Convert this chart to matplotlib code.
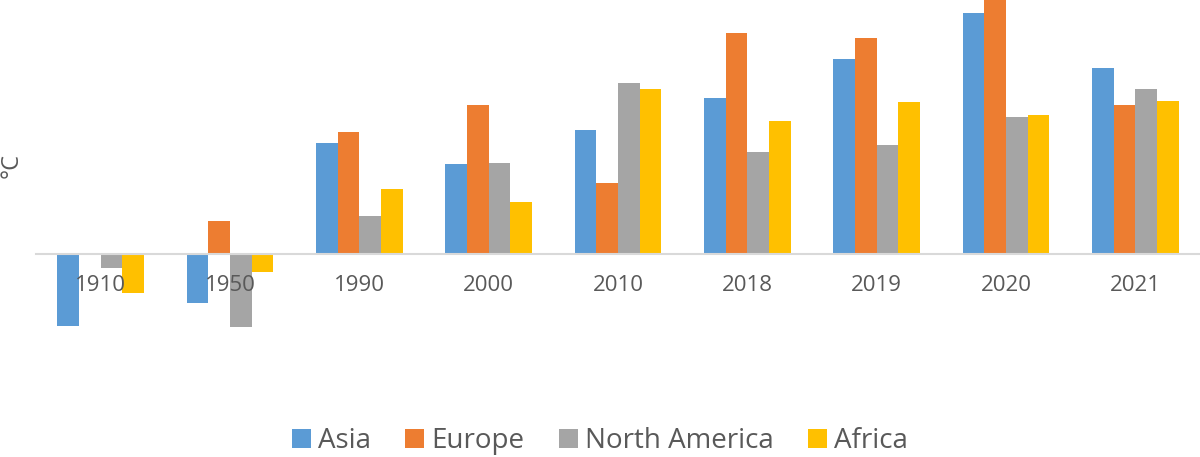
import numpy as np
import matplotlib.pyplot as plt

plt.rcParams['font.family'] = ['Open Sans', 'DejaVu Sans']

# temperature anomaly values (°C)
years = ['1910', '1950', '1990', '2000', '2010', '2018', '2019', '2020', '2021']
asia = [-0.72, -0.49, 1.11, 0.90, 1.24, 1.56, 1.95, 2.41, 1.86]
europe = [0.0, 0.33, 1.22, 1.49, 0.71, 2.21, 2.16, 2.62, 1.49]
north_america = [-0.14, -0.73, 0.38, 0.91, 1.71, 1.02, 1.09, 1.37, 1.65]
africa = [-0.39, -0.18, 0.65, 0.52, 1.65, 1.33, 1.52, 1.39, 1.53]

series = [('Asia', asia, '#5b9bd5'),
          ('Europe', europe, '#ed7d31'),
          ('North America', north_america, '#a5a5a5'),
          ('Africa', africa, '#ffc000')]

fig = plt.figure(figsize=(12, 4.57), dpi=100)
ax = fig.add_axes([0.03, 0.225, 0.97, 0.775])

x = np.arange(len(years))
w = 0.167
for i, (name, vals, col) in enumerate(series):
    ax.bar(x + (i - 1.5) * w, vals, width=w, color=col, label=name, zorder=1)

ax.set_xlim(-0.5, len(years) - 0.5)
ax.set_ylim(-1.0, 2.54)

# category axis drawn at zero, like the original; labels sit over the bars
for s in ['top', 'right', 'left']:
    ax.spines[s].set_visible(False)
ax.spines['bottom'].set_position(('data', 0))
ax.spines['bottom'].set_color('#d9d9d9')
ax.spines['bottom'].set_linewidth(1.5)
ax.spines['bottom'].set_zorder(3)
ax.xaxis.set_zorder(4)
ax.set_yticks([])
ax.set_xticks(x)
ax.set_xticklabels(years, fontsize=16, color='#595959')
ax.tick_params(axis='x', length=0, pad=15)

fig.text(0.0095, 1 - 165 / 457, '°C', rotation=90, fontsize=17, color='#595959',
         ha='center', va='center')

fig.legend(loc='center', bbox_to_anchor=(0.5, 1 - 441 / 457), ncol=4, frameon=False,
           fontsize=20, handlelength=0.68, handleheight=0.68, handletextpad=0.25,
           columnspacing=1.25, labelcolor='#595959')

plt.savefig('out.png', dpi=100)
